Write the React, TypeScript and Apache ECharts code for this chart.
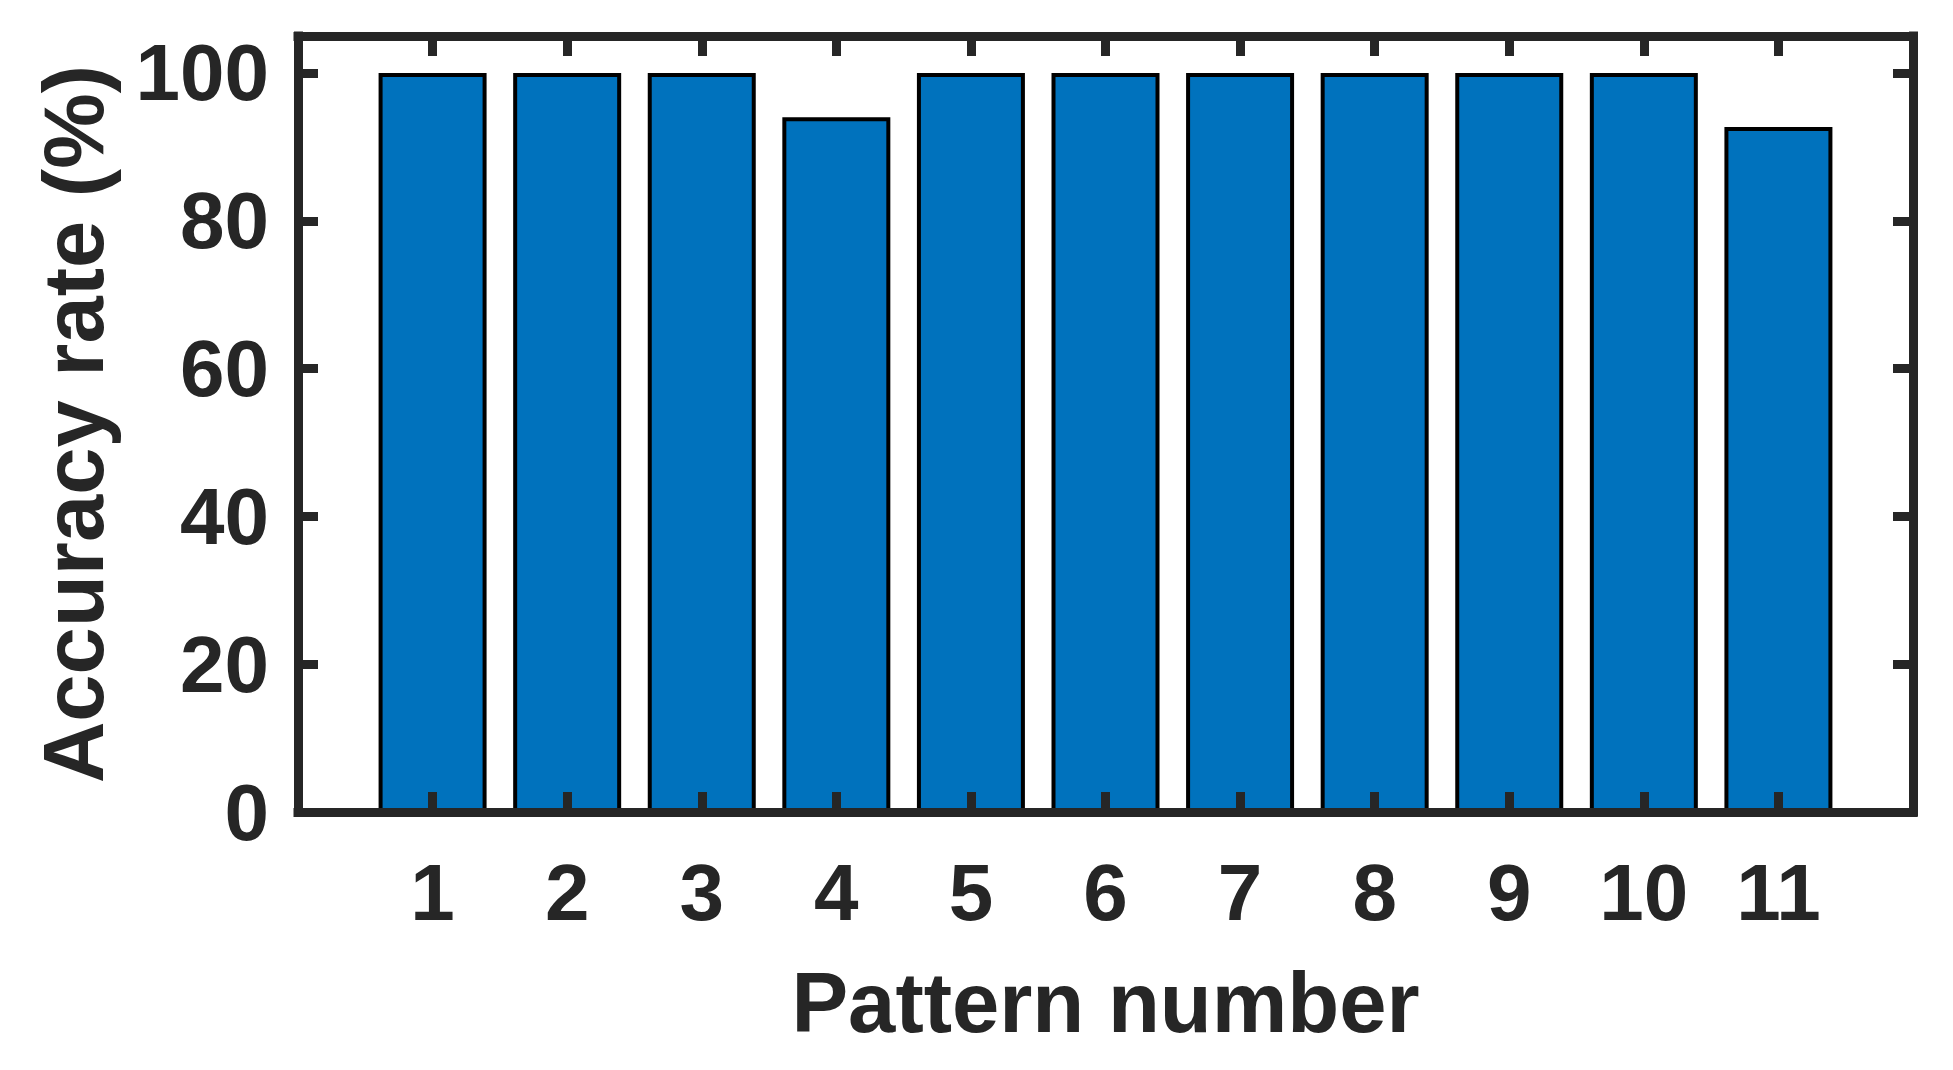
import React, { useEffect, useRef } from "react";
import * as echarts from "echarts";

const patterns = [1, 2, 3, 4, 5, 6, 7, 8, 9, 10, 11];
const accuracy = [100, 100, 100, 94, 100, 100, 100, 100, 100, 100, 92.7];
const xLimits = [0, 12];
const yLimits = [0, 105];
const yTicks = [0, 20, 40, 60, 80, 100];
const xTitle = "Pattern number";
const yTitle = "Accuracy rate (%)";

export default function App() {
  const ref = useRef<HTMLDivElement>(null);
  useEffect(() => {
    const chart = echarts.init(ref.current!, null, { renderer: "svg" });
    const axisColor = "#262626";
    const font = "'Liberation Sans', Arial, Helvetica, sans-serif";
    const lineW = 9;
    const tickStyle = { show: true, inside: true, length: 20, lineStyle: { color: axisColor, width: lineW } };
    const lineStyle = { show: true, onZero: false, lineStyle: { color: axisColor, width: lineW, cap: "square" } };
    const labelStyle = { color: axisColor, fontFamily: font, fontWeight: "bold", fontSize: 80 };
    const yMaxTick = yTicks[yTicks.length - 1];
    const option: any = {
      animation: false,
      backgroundColor: "#ffffff",
      grid: { left: 298, right: 40, top: 36, bottom: 258, containLabel: false },
      xAxis: [
        {
          type: "value",
          position: "bottom",
          min: xLimits[0],
          max: xLimits[1],
          interval: 1,
          z: 10,
          axisLine: lineStyle,
          axisTick: tickStyle,
          splitLine: { show: false },
          axisLabel: {
            ...labelStyle,
            margin: 40,
            formatter: (v: number) => (patterns.indexOf(v) >= 0 ? String(v) : ""),
          },
          name: xTitle,
          nameLocation: "middle",
          nameGap: 148,
          nameTextStyle: { color: axisColor, fontFamily: font, fontWeight: "bold", fontSize: 85 },
        },
        {
          type: "value",
          position: "top",
          min: xLimits[0],
          max: xLimits[1],
          interval: 1,
          z: 10,
          axisLine: lineStyle,
          axisTick: tickStyle,
          splitLine: { show: false },
          axisLabel: { show: false },
        },
      ],
      yAxis: [
        {
          type: "value",
          position: "left",
          min: yLimits[0],
          max: yLimits[1],
          interval: 20,
          z: 10,
          axisLine: lineStyle,
          axisTick: tickStyle,
          splitLine: { show: false },
          axisLabel: {
            ...labelStyle,
            margin: 29,
            formatter: (v: number) => (yTicks.indexOf(v) >= 0 && v <= yMaxTick ? String(v) : ""),
          },
          name: yTitle,
          nameLocation: "middle",
          nameGap: 182,
          nameTextStyle: { color: axisColor, fontFamily: font, fontWeight: "bold", fontSize: 85 },
        },
        {
          type: "value",
          position: "right",
          min: yLimits[0],
          max: yLimits[1],
          interval: 20,
          z: 10,
          axisLine: lineStyle,
          axisTick: tickStyle,
          splitLine: { show: false },
          axisLabel: { show: false },
        },
      ],
      series: [
        {
          type: "bar",
          xAxisIndex: 0,
          yAxisIndex: 0,
          barWidth: 108,
          data: patterns.map((p, i) => [p, accuracy[i]]),
          itemStyle: { color: "#0072BD", borderColor: "#000000", borderWidth: 4 },
        },
      ],
    };
    chart.setOption(option);
    return () => chart.dispose();
  }, []);
  return (
    <div
      ref={ref}
      style={{ position: "fixed", left: 0, top: 0, width: 1953, height: 1070, background: "#ffffff" }}
    />
  );
}
